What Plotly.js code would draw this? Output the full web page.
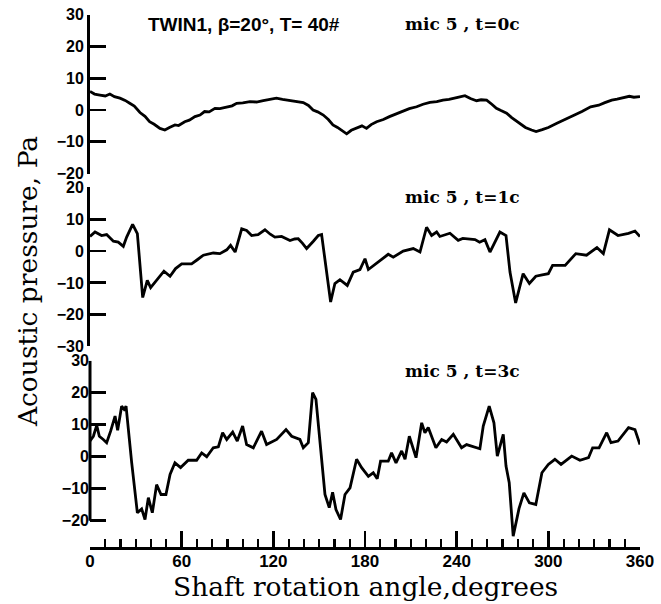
<!DOCTYPE html>
<html><head><meta charset="utf-8">
<script src="https://cdn.plot.ly/plotly-3.0.1.min.js"></script>
<style>html,body{margin:0;padding:0;background:#fff}#chart{width:661px;height:604px}</style>
</head><body><div id="chart"></div>
<script>
// Shaft rotation angle (degrees) and acoustic pressure (Pa), mic 5
const angle0c = [0,3,6.5,10,13,16,19.6,23,26,29,32.7,36,39,42,45.8,49,52,55.6,58,62,65,68.7,72,75,78,81.8,85,89.5,93,96,100,104.7,109,113.4,117,122,126,130.9,135,139.6,143,146,149,152.7,156,159,162,165,168,171,174.5,178,181,184,187.6,192,196,200,205,209,213.8,218,222.5,227,231,235,240,243,245.4,249,253,256,259.6,263,266,269,272.7,276,281.4,285,289,292,296,300,305.6,311,316.7,322,327.7,333,337,341.5,345,349.7,353,356,360];
const p0c = [5.8,5.0,4.7,4.4,5.0,4.2,3.7,3.0,2.1,1.2,-0.8,-2.0,-3.7,-4.5,-5.8,-6.3,-5.5,-4.7,-4.9,-3.7,-3.2,-2.1,-1.6,-0.5,-0.6,0.5,0.4,1.0,1.3,2.1,2.2,2.6,2.5,2.9,3.3,3.7,3.3,3.0,2.8,2.3,1.4,0,-0.6,-1.6,-3.0,-4.7,-5.5,-6.5,-7.5,-6.4,-5.8,-5.0,-5.8,-4.6,-3.7,-3.0,-2.1,-1.3,-0.2,0.4,1.0,1.8,2.4,2.6,3.1,3.3,3.9,4.2,4.5,3.6,2.9,3.2,3.1,1.8,0.5,-0.2,-1.0,-2.4,-4.2,-5.5,-6.3,-6.8,-6.2,-5.5,-4.2,-3.0,-1.6,-0.5,1.0,1.5,2.3,3.1,3.4,4.0,4.3,4.0,4.2];

const angle1c = [0,3.3,7.6,10.9,15.3,18.5,21.8,24,27.9,31,34.5,37.5,39.7,43.6,48.4,52.4,56,60,66.5,70,74.2,80.7,85,89.5,92,95,99.3,102.5,105.8,110,114.5,118,121,125.4,130.9,134,136.3,139,141.8,146.2,149.4,151.6,154.9,157.5,160.3,163.6,168.4,172.3,176.7,180,182.2,188.7,195.2,198.5,205,211.6,216,220.3,223.6,226.9,229,235.6,241,244,248.7,252,255,258.5,261.8,265,268.3,272.3,274.9,278.6,281.4,283.5,287.6,291.8,296,300,302.8,311,318,325,331.8,336,340,345.6,352.5,356.7,360];
const p1c = [4.6,6.0,4.9,5.2,3.1,2.8,1.5,4.4,8.4,5.5,-14.6,-9.2,-11.5,-9.2,-6.3,-7.9,-5.5,-4.0,-4.0,-2.8,-1.3,-0.6,-0.8,0.4,1.8,-0.3,7.0,6.5,4.9,5.2,6.7,5.3,4.4,4.6,3.3,3.8,3.9,2.5,0.8,3.1,4.9,5.2,-7.1,-16.0,-10.2,-9.0,-10.8,-6.6,-5.8,-2.4,-5.8,-3.4,-1.0,-1.9,0,0.8,-0.3,7.5,4.9,6.0,4.6,5.6,3.4,4.0,3.9,3.6,2.8,3.6,-0.3,3.0,6.0,4.9,-6.6,-16.3,-11.1,-7.1,-10.2,-7.9,-7.5,-7.1,-4.5,-4.5,-0.8,-1.3,1.1,-0.8,6.7,4.9,5.6,6.3,4.6];

const angle3c = [0,2.2,4.4,6.1,8.7,10.9,13.5,16.4,18.1,20.7,22.3,23.6,27.3,31,33.8,36,38.2,40.8,43.6,46.5,49.7,52.4,55.6,59.3,64.3,69.8,73.1,76.4,80.7,84,86.8,89.5,93.4,96.4,99.9,102.5,106.9,112.3,115.6,122.2,128.3,132,137.4,139.6,142.9,145.7,147.9,150.5,153.8,156.6,158.8,161,164,166.9,170.2,174.5,177.8,182.2,185.4,188,190.2,195.2,197.4,200.3,204,206.2,209,213.4,217.1,219.2,221.4,226.4,230.2,233.4,237.8,243.2,246.5,255.2,257.4,261.3,264.4,266.6,268.3,270.5,272.3,274.4,277,280.8,284,287.6,291.8,295.8,300,304.3,308.3,315.3,320.7,326.3,329,333.2,338.2,341,345.6,352.5,356.7,360];
const p3c = [4.9,6.4,9.8,6.4,5.4,4.4,8.0,12.7,8.3,15.8,14.8,15.8,-1.9,-17.5,-16.3,-19.6,-12.8,-17.5,-8.7,-11.8,-11.8,-5.5,-1.9,-3.4,-1.1,-1.1,1.2,0,2.8,3.1,7.5,5.4,7.7,4.9,9.6,3.8,2.8,8.0,3.8,5.4,8.5,6.4,5.4,2.8,4.4,20.0,17.9,4.4,-11.8,-15.9,-11.1,-16.5,-19.6,-11.8,-9.7,-0.8,-3.4,-6.1,-5.0,-6.9,-1.4,-1.4,1.2,-1.9,1.8,-0.8,6.4,-0.3,10.6,7.5,9.1,2.8,5.4,4.6,7.0,2.8,3.8,2.5,9.6,15.8,10.6,0.2,3.3,7.0,-2.9,-8.1,-24.8,-16.2,-11.3,-14.4,-14.9,-5.0,-2.4,-0.8,-2.4,0.2,-1.1,-0.3,2.8,2.8,7.5,4.4,4.9,9.1,8.5,3.8];

const yTicks1 = [-20,-10,0,10,20,30];
const yTicks2 = [-30,-20,-10,0,10,20];
const yTicks3 = [-20,-10,0,10,20,30];
const xTicks = [0,60,120,180,240,300,360];

const lineStyle = {color:'#000', width:2.8};
const traces = [
  {x:angle0c, y:p0c, xaxis:'x', yaxis:'y', mode:'lines', line:lineStyle, hoverinfo:'skip'},
  {x:angle1c, y:p1c, xaxis:'x2', yaxis:'y2', mode:'lines', line:lineStyle, hoverinfo:'skip'},
  {x:angle3c, y:p3c, xaxis:'x3', yaxis:'y3', mode:'lines', line:lineStyle, hoverinfo:'skip'}
];

const yTickFont = {family:'Liberation Sans, Arial, sans-serif', size:16, color:'#000', weight:'bold'};
const xTickFont = {family:'Liberation Sans, Arial, sans-serif', size:17, color:'#000', weight:'bold'};
function yAx(dom, rng, vals, line){
  return {domain:dom, range:rng, tickvals:vals, ticktext:vals.map(v=>String(v).replace('-','\u2212')),
    ticks:'inside', ticklen:16, tickwidth:2.8, tickcolor:'#000',
    showline:line, linewidth:3, linecolor:'#000', showgrid:false, zeroline:false,
    tickfont:yTickFont, fixedrange:true};
}
function xHidden(anchor){
  return {domain:[0,1], range:[0,360], anchor:anchor, visible:false, fixedrange:true};
}
const micFont = {family:'DejaVu Serif, serif', size:17, color:'#000', weight:'bold'};
const titleFont = {family:'DejaVu Serif, serif', size:26.5, color:'#000'};

const layout = {
  width:661, height:604,
  margin:{l:90, r:21, t:14, b:57, autoexpand:false},
  paper_bgcolor:'#fff', plot_bgcolor:'#fff', showlegend:false,
  xaxis: xHidden('y'),
  xaxis2: xHidden('y2'),
  xaxis3: {domain:[0,1], range:[0,360], anchor:'y3', tickvals:xTicks, ticks:'inside', ticklen:16, tickwidth:2.8, tickcolor:'#000',
    minor:{dtick:10, tick0:0, ticks:'inside', ticklen:8, tickwidth:2.2, tickcolor:'#000'},
    ticklabelstandoff:-3,
    showline:true, linewidth:3, linecolor:'#000', showgrid:false, zeroline:false, tickfont:xTickFont, fixedrange:true},
  yaxis: yAx([0.7006,0.999], [-20,30], yTicks1, true),
  yaxis2: yAx([0.3762,0.6745], [-30,20], yTicks2, true),
  yaxis3: yAx([0,0.3495], [-28.2,30], yTicks3, false),
  shapes:[{type:'line', xref:'paper', yref:'y3', x0:0, x1:0, y0:-20, y1:30, line:{color:'#000', width:3}}],
  annotations:[
    {text:'TWIN1, \u03b2=20\u00b0, T= 40#', xref:'paper', yref:'paper', x:0.2800, y:0.9812, xanchor:'center', yanchor:'middle', showarrow:false,
      font:{family:'Liberation Sans, Arial, sans-serif', size:19, color:'#000', weight:'bold'}},
    {text:'mic 5 , t=0c', xref:'paper', yref:'paper', x:0.678, y:0.9812, xanchor:'center', yanchor:'middle', showarrow:false, font:micFont},
    {text:'mic 5 , t=1c', xref:'paper', yref:'paper', x:0.678, y:0.6567, xanchor:'center', yanchor:'middle', showarrow:false, font:micFont},
    {text:'mic 5 , t=3c', xref:'paper', yref:'paper', x:0.678, y:0.3302, xanchor:'center', yanchor:'middle', showarrow:false, font:micFont},
    {text:'Acoustic pressure, Pa', xref:'paper', yref:'paper', x:-0.1145, y:0.497, textangle:-90, xanchor:'center', yanchor:'middle', showarrow:false, font:titleFont},
    {text:'Shaft rotation angle,degrees', xref:'paper', yref:'paper', x:0.5018, y:-0.0732, xanchor:'center', yanchor:'middle', showarrow:false, font:titleFont}
  ]
};
Plotly.newPlot('chart', traces, layout, {staticPlot:true, displayModeBar:false});
</script></body></html>
